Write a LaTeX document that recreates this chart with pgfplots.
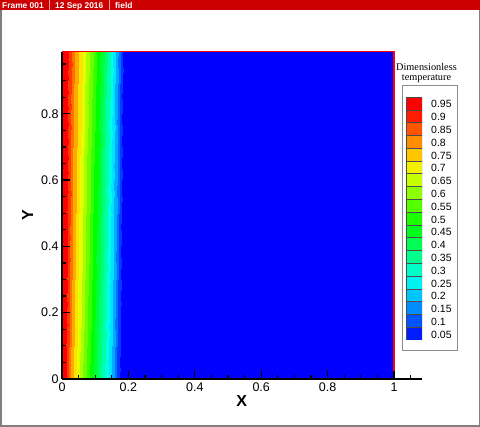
\documentclass[border=0pt]{standalone}
\usepackage{fontspec}
\setmainfont{Liberation Sans}
\newfontfamily\seriffont{Liberation Serif}
\usepackage{pgfplots}
\pgfplotsset{compat=1.18}
\usepackage{pgfplotstable}

% temperature field: x y T (6 scanlines of 23 points)
\pgfplotstableread[row sep=\\]{
x y T\\
0 0 1.0\\ 0.0088 0 0.93\\ 0.0176 0 0.865\\ 0.0267 0 0.80\\ 0.0358 0 0.745\\ 0.0452 0 0.69\\ 0.0546 0 0.64\\ 0.0643 0 0.59\\ 0.074 0 0.545\\ 0.084 0 0.50\\ 0.094 0 0.455\\ 0.104 0 0.41\\ 0.1143 0 0.36\\ 0.1246 0 0.32\\ 0.1352 0 0.27\\ 0.1458 0 0.215\\ 0.1564 0 0.155\\ 0.167 0 0.09\\ 0.1776 0 0.03\\ 0.1882 0 0\\ 0.1988 0 0\\ 0.25 0 0\\ 1 0 0\\
0 0.2 1.0\\ 0.0098 0.2 0.93\\ 0.0196 0.2 0.865\\ 0.0295 0.2 0.80\\ 0.0393 0.2 0.745\\ 0.0492 0.2 0.69\\ 0.0591 0.2 0.64\\ 0.0691 0.2 0.59\\ 0.079 0.2 0.545\\ 0.089 0.2 0.50\\ 0.099 0.2 0.455\\ 0.109 0.2 0.41\\ 0.1191 0.2 0.36\\ 0.1291 0.2 0.32\\ 0.1392 0.2 0.27\\ 0.1493 0.2 0.215\\ 0.1594 0.2 0.155\\ 0.1695 0.2 0.09\\ 0.1796 0.2 0.03\\ 0.1897 0.2 0\\ 0.1998 0.2 0\\ 0.25 0.2 0\\ 1 0.2 0\\
0 0.4 1.0\\ 0.0106 0.4 0.93\\ 0.0212 0.4 0.865\\ 0.0317 0.4 0.80\\ 0.0421 0.4 0.745\\ 0.0524 0.4 0.69\\ 0.0627 0.4 0.64\\ 0.0729 0.4 0.59\\ 0.083 0.4 0.545\\ 0.093 0.4 0.50\\ 0.103 0.4 0.455\\ 0.113 0.4 0.41\\ 0.1229 0.4 0.36\\ 0.1327 0.4 0.32\\ 0.1424 0.4 0.27\\ 0.1521 0.4 0.215\\ 0.1618 0.4 0.155\\ 0.1715 0.4 0.09\\ 0.1812 0.4 0.03\\ 0.1909 0.4 0\\ 0.2006 0.4 0\\ 0.25 0.4 0\\ 1 0.4 0\\
0 0.6 1.0\\ 0.0114 0.6 0.93\\ 0.0228 0.6 0.865\\ 0.0339 0.6 0.80\\ 0.0449 0.6 0.745\\ 0.0556 0.6 0.69\\ 0.0663 0.6 0.64\\ 0.0767 0.6 0.59\\ 0.087 0.6 0.545\\ 0.097 0.6 0.50\\ 0.107 0.6 0.455\\ 0.117 0.6 0.41\\ 0.1267 0.6 0.36\\ 0.1363 0.6 0.32\\ 0.1456 0.6 0.27\\ 0.1549 0.6 0.215\\ 0.1642 0.6 0.155\\ 0.1735 0.6 0.09\\ 0.1828 0.6 0.03\\ 0.1921 0.6 0\\ 0.2014 0.6 0\\ 0.25 0.6 0\\ 1 0.6 0\\
0 0.8 1.0\\ 0.0122 0.8 0.93\\ 0.0244 0.8 0.865\\ 0.0361 0.8 0.80\\ 0.0477 0.8 0.745\\ 0.0588 0.8 0.69\\ 0.0699 0.8 0.64\\ 0.0805 0.8 0.59\\ 0.091 0.8 0.545\\ 0.101 0.8 0.50\\ 0.111 0.8 0.455\\ 0.121 0.8 0.41\\ 0.1305 0.8 0.36\\ 0.1399 0.8 0.32\\ 0.1488 0.8 0.27\\ 0.1577 0.8 0.215\\ 0.1666 0.8 0.155\\ 0.1755 0.8 0.09\\ 0.1844 0.8 0.03\\ 0.1933 0.8 0\\ 0.2022 0.8 0\\ 0.25 0.8 0\\ 1 0.8 0\\
0 0.987 1.0\\ 0.013 0.987 0.93\\ 0.026 0.987 0.865\\ 0.0383 0.987 0.80\\ 0.0505 0.987 0.745\\ 0.062 0.987 0.69\\ 0.0735 0.987 0.64\\ 0.0843 0.987 0.59\\ 0.095 0.987 0.545\\ 0.105 0.987 0.50\\ 0.115 0.987 0.455\\ 0.125 0.987 0.41\\ 0.1343 0.987 0.36\\ 0.1435 0.987 0.32\\ 0.152 0.987 0.27\\ 0.1605 0.987 0.215\\ 0.169 0.987 0.155\\ 0.1775 0.987 0.09\\ 0.186 0.987 0.03\\ 0.1945 0.987 0\\ 0.203 0.987 0\\ 0.25 0.987 0\\ 1 0.987 0\\
}\fielddata

% legend swatches: x y index
\pgfplotstableread[row sep=\\]{
x y k\\
0 0 0\\ 1 0 0\\ 0 1 1\\ 1 1 1\\ 0 2 2\\ 1 2 2\\ 0 3 3\\ 1 3 3\\ 0 4 4\\ 1 4 4\\
0 5 5\\ 1 5 5\\ 0 6 6\\ 1 6 6\\ 0 7 7\\ 1 7 7\\ 0 8 8\\ 1 8 8\\ 0 9 9\\ 1 9 9\\
0 10 10\\ 1 10 10\\ 0 11 11\\ 1 11 11\\ 0 12 12\\ 1 12 12\\ 0 13 13\\ 1 13 13\\ 0 14 14\\ 1 14 14\\
0 15 15\\ 1 15 15\\ 0 16 16\\ 1 16 16\\ 0 17 17\\ 1 17 17\\ 0 18 18\\ 1 18 18\\ 0 19 18\\ 1 19 18\\
}\legenddata

\pgfplotsset{
 colormap={legendmap}{rgb255=(0,0,255) rgb255=(0,57,255) rgb255=(0,113,255) rgb255=(0,170,255) rgb255=(0,227,255)
   rgb255=(0,255,227) rgb255=(0,255,170) rgb255=(0,255,113) rgb255=(0,255,57) rgb255=(0,255,0)
   rgb255=(57,255,0) rgb255=(113,255,0) rgb255=(170,255,0) rgb255=(227,255,0) rgb255=(255,227,0)
   rgb255=(255,170,0) rgb255=(255,113,0) rgb255=(255,57,0) rgb255=(255,0,0)},
 colormap={fieldmap}{rgb255(0cm)=(0,0,255) rgb255(1cm)=(0,57,255) rgb255(2cm)=(0,113,255) rgb255(3cm)=(0,170,255)
   rgb255(4cm)=(0,227,255) rgb255(5cm)=(0,255,227) rgb255(6cm)=(0,255,170) rgb255(7cm)=(0,255,113)
   rgb255(8cm)=(0,255,57) rgb255(9cm)=(0,255,0) rgb255(10cm)=(57,255,0) rgb255(11cm)=(113,255,0)
   rgb255(12cm)=(170,255,0) rgb255(13cm)=(227,255,0) rgb255(14cm)=(255,227,0) rgb255(15cm)=(255,170,0)
   rgb255(16cm)=(255,113,0) rgb255(17cm)=(255,57,0) rgb255(18cm)=(255,0,0) rgb255(19cm)=(255,0,0)
   rgb255(20cm)=(255,0,0)},
}

\definecolor{hdrred}{RGB}{204,0,0}
\definecolor{hdrsep}{RGB}{240,160,160}
\definecolor{framegray}{RGB}{128,128,128}
\definecolor{boxgray}{RGB}{140,140,140}

\begin{document}
\begin{tikzpicture}
\path[use as bounding box] (0pt,0pt) rectangle (480pt,427pt);
% header bar
\fill[hdrred] (0pt,417pt) rectangle (480pt,427pt);
\draw[hdrsep, line width=0.8pt] (49.3pt,417pt) -- (49.3pt,427pt);
\draw[hdrsep, line width=0.8pt] (109.3pt,417pt) -- (109.3pt,427pt);
\node[anchor=west, inner sep=0pt, text=white, font=\bfseries\fontsize{8.4}{9}\selectfont] at (2pt,421pt) {Frame 001};
\node[anchor=west, inner sep=0pt, text=white, font=\bfseries\fontsize{8.4}{9}\selectfont] at (55pt,421pt) {12 Sep 2016};
\node[anchor=west, inner sep=0pt, text=white, font=\bfseries\fontsize{8.4}{9}\selectfont] at (115pt,421pt) {field};
% outer frame
\draw[framegray, line width=1.5pt] (0.75pt,417pt) -- (0.75pt,0.75pt) -- (479.25pt,0.75pt) -- (479.25pt,417pt);

\begin{axis}[
  at={(62pt,48pt)}, anchor=south west,
  scale only axis, width=359.6pt, height=327.2pt,
  xmin=0, xmax=1.083, ymin=0, ymax=0.987,
  axis lines=left, axis line style={-, line width=1.6pt},
  tick align=inside,
  xtick={0,0.2,0.4,0.6,0.8,1},
  ytick={0,0.2,0.4,0.6,0.8},
  minor xtick={0.05,0.1,0.15,0.25,0.3,0.35,0.45,0.5,0.55,0.65,0.7,0.75,0.85,0.9,0.95,1.05},
  minor ytick={0.05,0.1,0.15,0.25,0.3,0.35,0.45,0.5,0.55,0.65,0.7,0.75,0.85,0.9,0.95},
  major tick length=8pt, minor tick length=4pt,
  tick style={black, line width=1.3pt},
  ticklabel style={font=\fontsize{12.5}{13}\selectfont},
  /pgf/number format/assume math mode=true,
  xlabel={X}, ylabel={Y},
  label style={font=\bfseries\fontsize{16}{16}\selectfont},
  x label style={at={(axis description cs:0.5,-0.0672)}, anchor=center},
  y label style={at={(axis description cs:-0.0959,0.5)}, anchor=center},
  axis on top, clip=false,
  colormap name=fieldmap, colormap access=piecewise constant,
  point meta min=0, point meta max=1,
]
\addplot[surf, shader=interp, mesh/cols=23, point meta=explicit] table[x=x, y=y, meta=T]{\fielddata};
\addplot[red, line width=1.3pt] coordinates {(0,0.987) (1,0.987) (1,0)};
\end{axis}

% legend
\draw[boxgray, line width=0.9pt] (402pt,77pt) rectangle (457pt,342pt);
\node[align=center, inner sep=0pt, font=\seriffont\fontsize{10.3}{10.5}\selectfont] at (426.5pt,354pt) {Dimensionless\\temperature};
\begin{axis}[
  at={(406pt,87pt)}, anchor=south west,
  scale only axis, width=16pt, height=243pt,
  xmin=0, xmax=1, ymin=0, ymax=19,
  axis line style={draw=none},
  xtick=\empty,
  ytick={0.5,1.5,2.5,3.5,4.5,5.5,6.5,7.5,8.5,9.5,10.5,11.5,12.5,13.5,14.5,15.5,16.5,17.5,18.5},
  yticklabels={0.05,0.1,0.15,0.2,0.25,0.3,0.35,0.4,0.45,0.5,0.55,0.6,0.65,0.7,0.75,0.8,0.85,0.9,0.95},
  yticklabel pos=right,
  major tick length=0pt, ytick style={draw=none},
  yticklabel style={font=\fontsize{10.5}{11}\selectfont, anchor=west, inner sep=0pt, xshift=9pt, yshift=-1pt},
  colormap name=legendmap, colormap access=direct,
]
\addplot[surf, shader=faceted, faceted color=black!70, line width=0.5pt, mesh/cols=2, point meta=explicit] table[x=x, y=y, meta=k]{\legenddata};
\end{axis}
\end{tikzpicture}
\end{document}
